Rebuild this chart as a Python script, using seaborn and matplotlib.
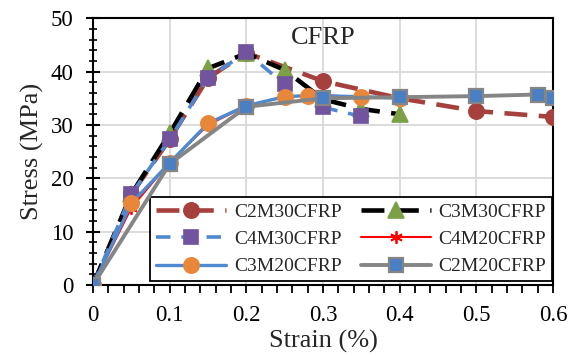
import matplotlib
matplotlib.use("Agg")
import matplotlib.pyplot as plt
import seaborn as sns
from matplotlib.ticker import MultipleLocator

# === DATA ===
c2m30_x = [0, 0.05, 0.1, 0.15, 0.2, 0.3, 0.4, 0.5, 0.6]
c2m30_y = [0, 17.0, 27.3, 38.8, 43.5, 38.2, 35.0, 32.6, 31.5]

c3m30_x = [0, 0.05, 0.1, 0.15, 0.2, 0.25, 0.3, 0.35, 0.4]
c3m30_y = [0, 17.0, 28.4, 40.6, 43.4, 40.3, 34.8, 33.0, 32.0]

c4m30_x = [0, 0.05, 0.1, 0.15, 0.2, 0.25, 0.3, 0.35]
c4m30_y = [0, 17.0, 27.3, 38.8, 43.6, 37.6, 33.3, 31.6]

c4m20_x = [0, 0.05, 0.1, 0.15, 0.2, 0.25, 0.3, 0.35]
c4m20_y = [0, 14.5, 23.0, 30.0, 33.6, 35.3, 35.6, 35.2]

c3m20_x = [0, 0.05, 0.1, 0.15, 0.2, 0.25, 0.28, 0.35, 0.4]
c3m20_y = [0, 15.3, 22.9, 30.3, 33.6, 35.3, 35.5, 35.3, 35.0]

c2m20_x = [0, 0.1, 0.2, 0.3, 0.4, 0.5, 0.58, 0.6]
c2m20_y = [0, 22.7, 33.4, 35.0, 35.2, 35.4, 35.7, 35.0]

# === STYLE ===
sns.set_style("ticks")
plt.rcParams["font.family"] = ["Liberation Serif", "DejaVu Serif"]

fig = plt.figure(figsize=(5.81, 3.56), dpi=100)
ax = fig.add_axes([0.160, 0.199, 0.792, 0.750])

def draw(x, y, label, color, ls, lw, marker, mfc, mec, ms, z, mew=1.2):
    sns.lineplot(x=x, y=y, ax=ax, sort=False, errorbar=None, legend=False,
                 color=color, linestyle=ls, linewidth=lw, marker=marker,
                 markerfacecolor=mfc, markeredgecolor=mec, markersize=ms,
                 markeredgewidth=mew, label=label, zorder=z)

draw(c2m30_x, c2m30_y, "C2M30CFRP", "#a5403c", (0, (5, 2.5)), 3.3, "o", "#a5403c", "#a5403c", 11, 3)
draw(c3m30_x, c3m30_y, "C3M30CFRP", "black", (0, (5, 2.5)), 3.3, "^", "#7ba046", "#7ba046", 11, 4)
draw(c4m30_x, c4m30_y, "C4M30CFRP", "#4f8ad0", (0, (4, 3)), 2.6, "s", "#71539e", "#71539e", 10, 5)
draw(c4m20_x, c4m20_y, "C4M20CFRP", "#ff0000", "-", 1.5, (6, 2, 0), "#ff0000", "#ff0000", 9, 6, 1.3)
draw(c3m20_x, c3m20_y, "C3M20CFRP", "#4f8ad0", "-", 2.4, "o", "#e8873a", "#e8873a", 11, 7)
draw(c2m20_x, c2m20_y, "C2M20CFRP", "#858585", "-", 2.8, "s", "#4a7fc4", "#858585", 9.5, 8, 1.6)

# === AXES ===
ax.set_xlim(0, 0.6)
ax.set_ylim(0, 50)
ax.xaxis.set_minor_locator(MultipleLocator(0.02))
ax.yaxis.set_major_locator(MultipleLocator(10))
ax.yaxis.set_minor_locator(MultipleLocator(2))
ax.set_xticks([0, 0.1, 0.2, 0.3, 0.4, 0.5, 0.6])
ax.set_xticklabels(["0", "0.1", "0.2", "0.3", "0.4", "0.5", "0.6"])
ax.grid(True, which="major", color="#d9d9d9", linewidth=1.3, zorder=0)
ax.set_axisbelow(True)
for s in ax.spines.values():
    s.set_visible(True)
    s.set_color("black")
    s.set_linewidth(1.5)
ax.tick_params(axis="x", which="both", direction="out", length=6, width=1.3, colors="black")
ax.tick_params(axis="y", which="major", direction="inout", length=10, width=1.5, colors="black")
ax.tick_params(axis="y", which="minor", direction="inout", length=6, width=1.2, colors="black")
ax.tick_params(axis="x", which="major", labelsize=16.5, pad=8)
ax.tick_params(axis="y", which="major", labelsize=16.5, pad=9)
ax.set_xlabel("Strain (%)", fontsize=19, labelpad=3)
ax.set_ylabel("Stress (MPa)", fontsize=19, labelpad=5)

ax.text(0.30, 46.3, "CFRP", fontsize=19, ha="center", va="center")

# legend: row-wise order in reference, matplotlib fills column-wise
lines = {l.get_label(): l for l in ax.get_lines()}
order = ["C2M30CFRP", "C4M30CFRP", "C3M20CFRP", "C3M30CFRP", "C4M20CFRP", "C2M20CFRP"]
leg = ax.legend([lines[k] for k in order], order, ncol=2, loc="lower right",
                bbox_to_anchor=(0.998, 0.015), fontsize=14, frameon=True, fancybox=False,
                edgecolor="black", framealpha=1, handlelength=3.6, columnspacing=1.0,
                labelspacing=0.5, borderpad=0.3, handletextpad=0.4, borderaxespad=0)
leg.get_frame().set_linewidth(1.3)

fig.savefig("out.png", dpi=100)
